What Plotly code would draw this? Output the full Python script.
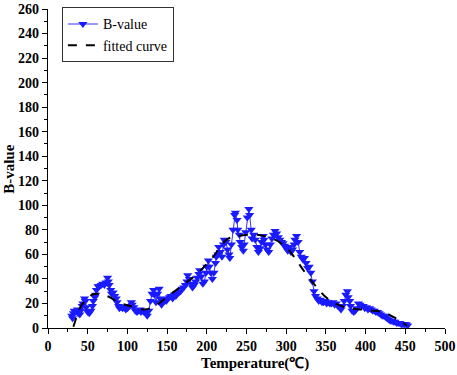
import plotly.graph_objects as go

temperature = [30, 31, 32, 33, 35, 37, 38, 40, 41, 43, 44, 46, 47, 48, 50, 52, 54, 56, 57, 59, 60,
               61, 63, 65, 67, 69, 71, 73, 75, 76, 77, 79, 80, 82, 84, 86, 87, 89, 90, 92, 94, 96, 98,
               100, 101, 103, 105, 106, 108, 110, 112, 114, 116, 117, 119, 121, 123, 125, 127, 129,
               131, 133, 134, 136, 138, 140, 141, 143, 145, 147, 149, 151, 153, 155, 157, 159, 161,
               163, 165, 167, 169, 171, 173, 175, 176, 178, 180, 182, 184, 186, 188, 190, 191, 193,
               195, 197, 199, 200, 202, 203, 205, 207, 209, 211, 212, 214, 215, 217, 219, 221, 222,
               224, 226, 228, 229, 231, 233, 235, 236, 238, 239, 241, 242, 244, 246, 247, 249, 251,
               253, 254, 256, 257, 259, 261, 263, 265, 267, 269, 271, 272, 274, 276, 278, 280, 282,
               284, 286, 288, 290, 292, 294, 296, 298, 300, 302, 304, 306, 308, 310, 311, 313, 315,
               317, 319, 321, 323, 325, 327, 329, 331, 333, 335, 337, 339, 341, 343, 345, 347, 349,
               351, 353, 355, 357, 359, 361, 363, 365, 367, 369, 371, 373, 375, 377, 378, 380, 381,
               383, 385, 387, 389, 391, 393, 395, 397, 399, 401, 403, 405, 407, 409, 411, 413, 415,
               417, 419, 421, 423, 425, 427, 429, 431, 433, 435, 437, 439, 441, 443, 445, 447, 449,
               451, 453]
b_value = [10, 8, 12, 14, 13, 15, 12, 11, 14, 18, 20, 24, 22, 17, 13, 12, 14, 18, 22, 25, 27,
           31, 34, 34, 35, 36, 35, 37, 41, 38, 35, 31, 28, 29, 26, 24, 21, 18, 16, 17, 16, 17, 15,
           16, 17, 18, 21, 19, 17, 14, 13, 14, 15, 13, 14, 13, 12, 10, 14, 22,
           28, 31, 27, 21, 28, 32, 24, 19, 21, 23, 22, 24, 25, 26, 24, 27, 26,
           28, 29, 30, 32, 33, 35, 38, 43, 40, 36, 33, 35, 38, 41, 44, 47, 42,
           36, 38, 45, 50, 55, 50, 45, 40, 45, 53, 58, 60, 66, 62, 58, 68, 72,
           70, 64, 60, 57, 68, 80, 92, 94, 88, 80, 76, 70, 66, 63, 68, 78, 90,
           97, 92, 80, 73, 76, 72, 66, 62, 65, 70, 75, 72, 68, 64, 62, 68, 73,
           76, 79, 77, 74, 72, 70, 69, 67, 65, 63, 66, 62, 64, 68, 72, 75, 70,
           62, 58, 56, 57, 53, 49, 50, 45, 38, 30, 26, 24, 22, 23, 21, 21, 22,
           20, 21, 20, 20, 21, 19, 20, 18, 17, 15, 18, 22, 27, 30, 25, 22, 18,
           14, 13, 14, 16, 20, 19, 18, 18, 16, 17, 15, 16, 15, 14, 14, 13, 13,
           12, 11, 10, 10, 9, 8, 7, 6, 6, 5, 5, 4, 4, 4, 3, 3, 3,
           3, 2]

fit_temperature = [32, 36, 40, 45, 50, 55, 63, 70, 78, 88, 103, 120, 135, 151, 170, 189, 208, 225,
                   239, 263, 286, 301, 311, 324, 340, 352, 365, 380, 395, 410, 422, 435, 445, 452]
fit_value = [1, 9, 16, 21, 24, 27, 28, 27, 25, 21, 18, 15, 18, 26, 35, 45, 58, 72,
             75, 76, 72, 65, 57, 45, 32, 24, 19, 16, 15, 14, 13, 9, 5, 2]

x_ticks = [0, 50, 100, 150, 200, 250, 300, 350, 400, 450, 500]
y_ticks = [0, 20, 40, 60, 80, 100, 120, 140, 160, 180, 200, 220, 240, 260]

FONT = "Liberation Serif, Times New Roman, serif"

fig = go.Figure()
fig.add_trace(go.Scatter(
    x=temperature, y=b_value, mode="lines+markers", name="B-value",
    line=dict(color="#3333ff", width=1),
    marker=dict(symbol="triangle-down", size=8, color="#1a1aff"),
))
fig.add_trace(go.Scatter(
    x=fit_temperature, y=fit_value, mode="lines", name="fitted curve",
    line=dict(color="black", width=2, dash="dash", shape="spline"),
))

axis_common = dict(
    showline=True, linecolor="black", linewidth=1.2, mirror=False,
    ticks="outside", ticklen=5, tickcolor="black", tickwidth=1.2,
    showgrid=False, zeroline=False, automargin=False,
    ticklabeloverflow="allow",
    tickfont=dict(family=FONT, size=14, color="black"),
    minor=dict(ticks="outside", ticklen=3, tickcolor="black", tickwidth=1),
)

fig.update_layout(
    width=457, height=375,
    margin=dict(l=48, r=12, t=7, b=47),
    paper_bgcolor="white", plot_bgcolor="white",
    font=dict(family=FONT, color="black"),
    xaxis=dict(range=[0, 500], tickvals=x_ticks, ticktext=["<b>%d</b>" % v for v in x_ticks],
               **axis_common),
    yaxis=dict(range=[0, 260], tickvals=y_ticks, ticktext=["<b>%d</b>" % v for v in y_ticks],
               **axis_common),
    legend=dict(x=0.035, y=1.005, xanchor="left", yanchor="top",
                bordercolor="#333333", borderwidth=1, bgcolor="white",
                font=dict(family=FONT, size=14, color="black"),
                tracegroupgap=0, itemwidth=30),
    showlegend=True,
    annotations=[
        dict(text="<b>Temperature(℃)</b>", xref="paper", yref="paper", x=0.521, y=0,
             xanchor="center", yanchor="middle", yshift=-35, showarrow=False,
             font=dict(family=FONT, size=15, color="black")),
        dict(text="<b>B-value</b>", xref="paper", yref="paper", x=-0.1, y=0.5,
             xanchor="center", yanchor="middle", textangle=-90, showarrow=False,
             font=dict(family=FONT, size=15, color="black")),
    ],
)
fig.update_xaxes(minor=dict(tickvals=[25, 75, 125, 175, 225, 275, 325, 375, 425, 475]))
fig.update_yaxes(minor=dict(tickvals=[10 + 20 * i for i in range(13)]))

fig.write_html("out.html", config={"displayModeBar": False},
               post_script="document.body.style.margin='0';document.body.style.overflow='hidden';")
